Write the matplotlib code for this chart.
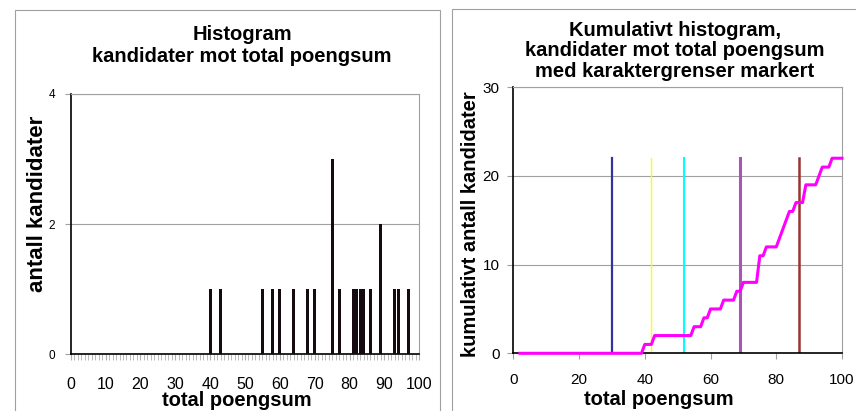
import numpy as np
import matplotlib
matplotlib.use('Agg')
import matplotlib.pyplot as plt
from matplotlib.patches import Rectangle

plt.rcParams['font.family'] = ['Liberation Sans', 'DejaVu Sans']

# data: scores with number of candidates
scores = [40, 43, 55, 58, 60, 64, 68, 70, 75, 77, 81, 82, 83, 84, 86, 89, 93, 94, 97]
counts = [1, 1, 1, 1, 1, 1, 1, 1, 3, 1, 1, 1, 1, 1, 1, 2, 1, 1, 1]
grade_limits = [30, 42, 52, 69, 87]
grade_colors = ['#333399', '#ffff00', '#00ffff', '#a855b5', '#993333']
grade_widths = [1.6, 1.0, 1.5, 2.2, 1.8]

# cumulative count for every point from 2 to 100
x_cum = np.arange(2, 101)
per_point = np.zeros(101)
per_point[scores] = counts
y_cum = np.cumsum(per_point)[2:]
total = sum(counts)

W, H = 856, 411
fig = plt.figure(figsize=(W / 100, H / 100), dpi=100)

def ax_px(x0, x1, ytop, ybot):
    return fig.add_axes([x0 / W, 1 - ybot / H, (x1 - x0) / W, (ybot - ytop) / H])

def text_px(x, y, s, **kw):
    return fig.text(x / W, 1 - y / H, s, ha='center', va='center', fontweight='bold', **kw)

# chart area borders
fig.patches.append(Rectangle((15 / W, -0.05), (440 - 15) / W, 1.05 - 10 / H,
                             transform=fig.transFigure, fill=False, ec='#a0a0a0', lw=0.8))
fig.patches.append(Rectangle((452 / W, -0.05), (870 - 452) / W, 1.05 - 9 / H,
                             transform=fig.transFigure, fill=False, ec='#a0a0a0', lw=0.8))

# ---------- histogram ----------
ax1 = ax_px(70.7, 419.3, 94, 354.3)
ax1.bar(scores, counts, width=0.85, color='#150a10', zorder=3)
ax1.set_xlim(0, 100)
ax1.set_ylim(0, 4)
ax1.set_yticks([0, 2, 4])
ax1.set_xticks(range(0, 101, 10))
ax1.set_xticks(range(0, 101), minor=True)
ax1.grid(axis='y', color='#a0a0a0', lw=0.8)
ax1.tick_params(axis='x', which='both', length=4, color='#b0b0b0', labelsize=11.5, pad=12)
ax1.tick_params(axis='y', length=4, color='#a0a0a0', labelsize=8.5, pad=7)
for s in ['top', 'right']:
    ax1.spines[s].set_color('#a0a0a0')
for s in ['left', 'bottom']:
    ax1.spines[s].set_color('black')
    ax1.spines[s].set_linewidth(1.2)
text_px(237, 400, 'total poengsum', fontsize=14.5)
text_px(38, 204, 'antall kandidater', fontsize=16, rotation=90)
text_px(242, 45, 'Histogram\nkandidater mot total poengsum', fontsize=14.5, linespacing=1.2)

# ---------- cumulative ----------
ax2 = ax_px(513.3, 842, 87.3, 353.3)
for g, c, lw in zip(grade_limits, grade_colors, grade_widths):
    ax2.plot([g, g], [0, total], color=c, lw=lw, zorder=2)
ax2.plot(x_cum, y_cum, color='#ff00ff', lw=2.2, zorder=3, clip_on=False)
ax2.set_xlim(0, 100)
ax2.set_ylim(0, 30)
ax2.set_xticks(range(0, 101, 20))
ax2.set_yticks(range(0, 31, 10))
ax2.grid(axis='y', color='#a0a0a0', lw=0.8)
ax2.tick_params(axis='both', length=4, color='#a0a0a0', labelsize=11)
ax2.tick_params(axis='x', pad=10)
ax2.tick_params(axis='y', pad=6)
for s in ['top', 'right']:
    ax2.spines[s].set_color('#a0a0a0')
for s in ['left', 'bottom']:
    ax2.spines[s].set_color('black')
    ax2.spines[s].set_linewidth(1.2)
text_px(659, 399, 'total poengsum', fontsize=14.5)
text_px(470, 224, 'kumulativt antall kandidater', fontsize=14.5, rotation=90)
text_px(675, 51, 'Kumulativt histogram,\nkandidater mot total poengsum\nmed karaktergrenser markert',
        fontsize=14.5, linespacing=1.1)

fig.savefig('out.png', dpi=100)
